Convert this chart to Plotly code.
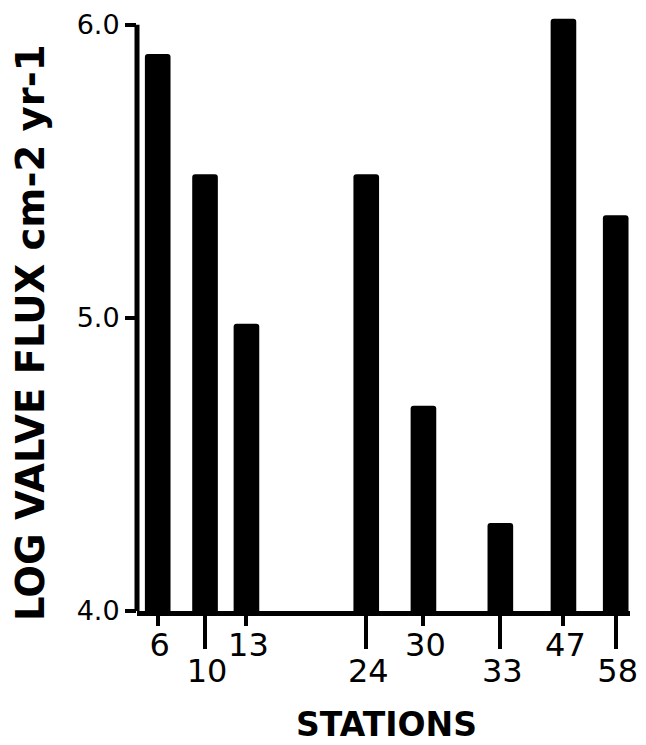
import plotly.graph_objects as go

# ---- data ----
stations = ["6", "10", "13", "24", "30", "33", "47", "58"]
station_pos = [4.2, 13.8, 22.2, 46.5, 58.1, 73.7, 86.5, 97.1]   # relative position along the transect
log_flux = [5.90, 5.49, 4.98, 5.49, 4.70, 4.30, 6.02, 5.35]
label_row = ["upper", "lower", "upper", "lower", "upper", "lower", "upper", "lower"]
y_ticks = [4.0, 5.0, 6.0]
y_tick_text = ["4.0", "5.0", "6.0"]
x_title = "STATIONS"
y_title = "LOG VALVE FLUX cm-2 yr-1"

FONT = "DejaVu Sans"
BLACK = "black"

upper_pos = [p for p, r in zip(station_pos, label_row) if r == "upper"]
upper_txt = [s for s, r in zip(stations, label_row) if r == "upper"]
lower_pos = [p for p, r in zip(station_pos, label_row) if r == "lower"]
lower_txt = [s for s, r in zip(stations, label_row) if r == "lower"]

fig = go.Figure()
fig.add_trace(go.Bar(
    x=station_pos, y=log_flux, width=5.2,
    marker=dict(color=BLACK, line=dict(width=0), cornerradius=3),
    hovertext=stations, showlegend=False,
))

x_range = [0, 100]
fig.update_layout(
    width=646, height=745,
    margin=dict(l=137, r=16, t=13, b=134),
    paper_bgcolor="white", plot_bgcolor="white",
    font=dict(family=FONT, color=BLACK),
    xaxis=dict(
        range=x_range, tickmode="array", tickvals=upper_pos, ticktext=upper_txt,
        ticks="outside", ticklen=10, tickwidth=4, tickcolor=BLACK,
        showline=True, linewidth=5, linecolor=BLACK,
        showgrid=False, zeroline=False, automargin=False,
        ticklabelstandoff=-8, ticklabelshift=2,
        tickfont=dict(family=FONT, size=32, color=BLACK),
    ),
    xaxis2=dict(
        range=x_range, overlaying="x", anchor="y", side="bottom",
        tickmode="array", tickvals=lower_pos, ticktext=lower_txt,
        ticks="outside", ticklen=37, tickwidth=4, tickcolor=BLACK,
        showline=False, showgrid=False, zeroline=False, automargin=False,
        ticklabelstandoff=-5, ticklabelshift=2,
        tickfont=dict(family=FONT, size=32, color=BLACK),
    ),
    yaxis=dict(
        range=[4.0, 6.04], tickmode="array", tickvals=y_ticks, ticktext=y_tick_text,
        ticks="outside", ticklen=11, tickwidth=4, tickcolor=BLACK,
        showline=False, showgrid=False, zeroline=False, automargin=False,
        tickfont=dict(family=FONT, size=27, color=BLACK),
    ),
    shapes=[dict(type="line", xref="paper", yref="y", x0=0, x1=0,
                 y0=y_ticks[0], y1=y_ticks[-1], line=dict(color=BLACK, width=5))],
    annotations=[
        dict(text=x_title, xref="paper", yref="paper", x=0.507, y=-0.19,
             xanchor="center", yanchor="middle", showarrow=False,
             font=dict(family=FONT, size=33, weight="bold", color=BLACK)),
        dict(text=y_title, xref="paper", yref="paper", x=-0.215, y=0.465,
             xanchor="center", yanchor="middle", textangle=-90, showarrow=False,
             font=dict(family=FONT, size=38.5, weight="bold", color=BLACK)),
    ],
)
# invisible trace so the second x axis is drawn
fig.add_trace(go.Scatter(x=[station_pos[0]], y=[log_flux[0]], xaxis="x2", yaxis="y",
                         mode="markers", marker=dict(opacity=0), showlegend=False,
                         hoverinfo="skip"))

fig.write_html("out.html", config={"displayModeBar": False},
               post_script="document.body.style.margin='0';document.body.style.overflow='hidden';")
